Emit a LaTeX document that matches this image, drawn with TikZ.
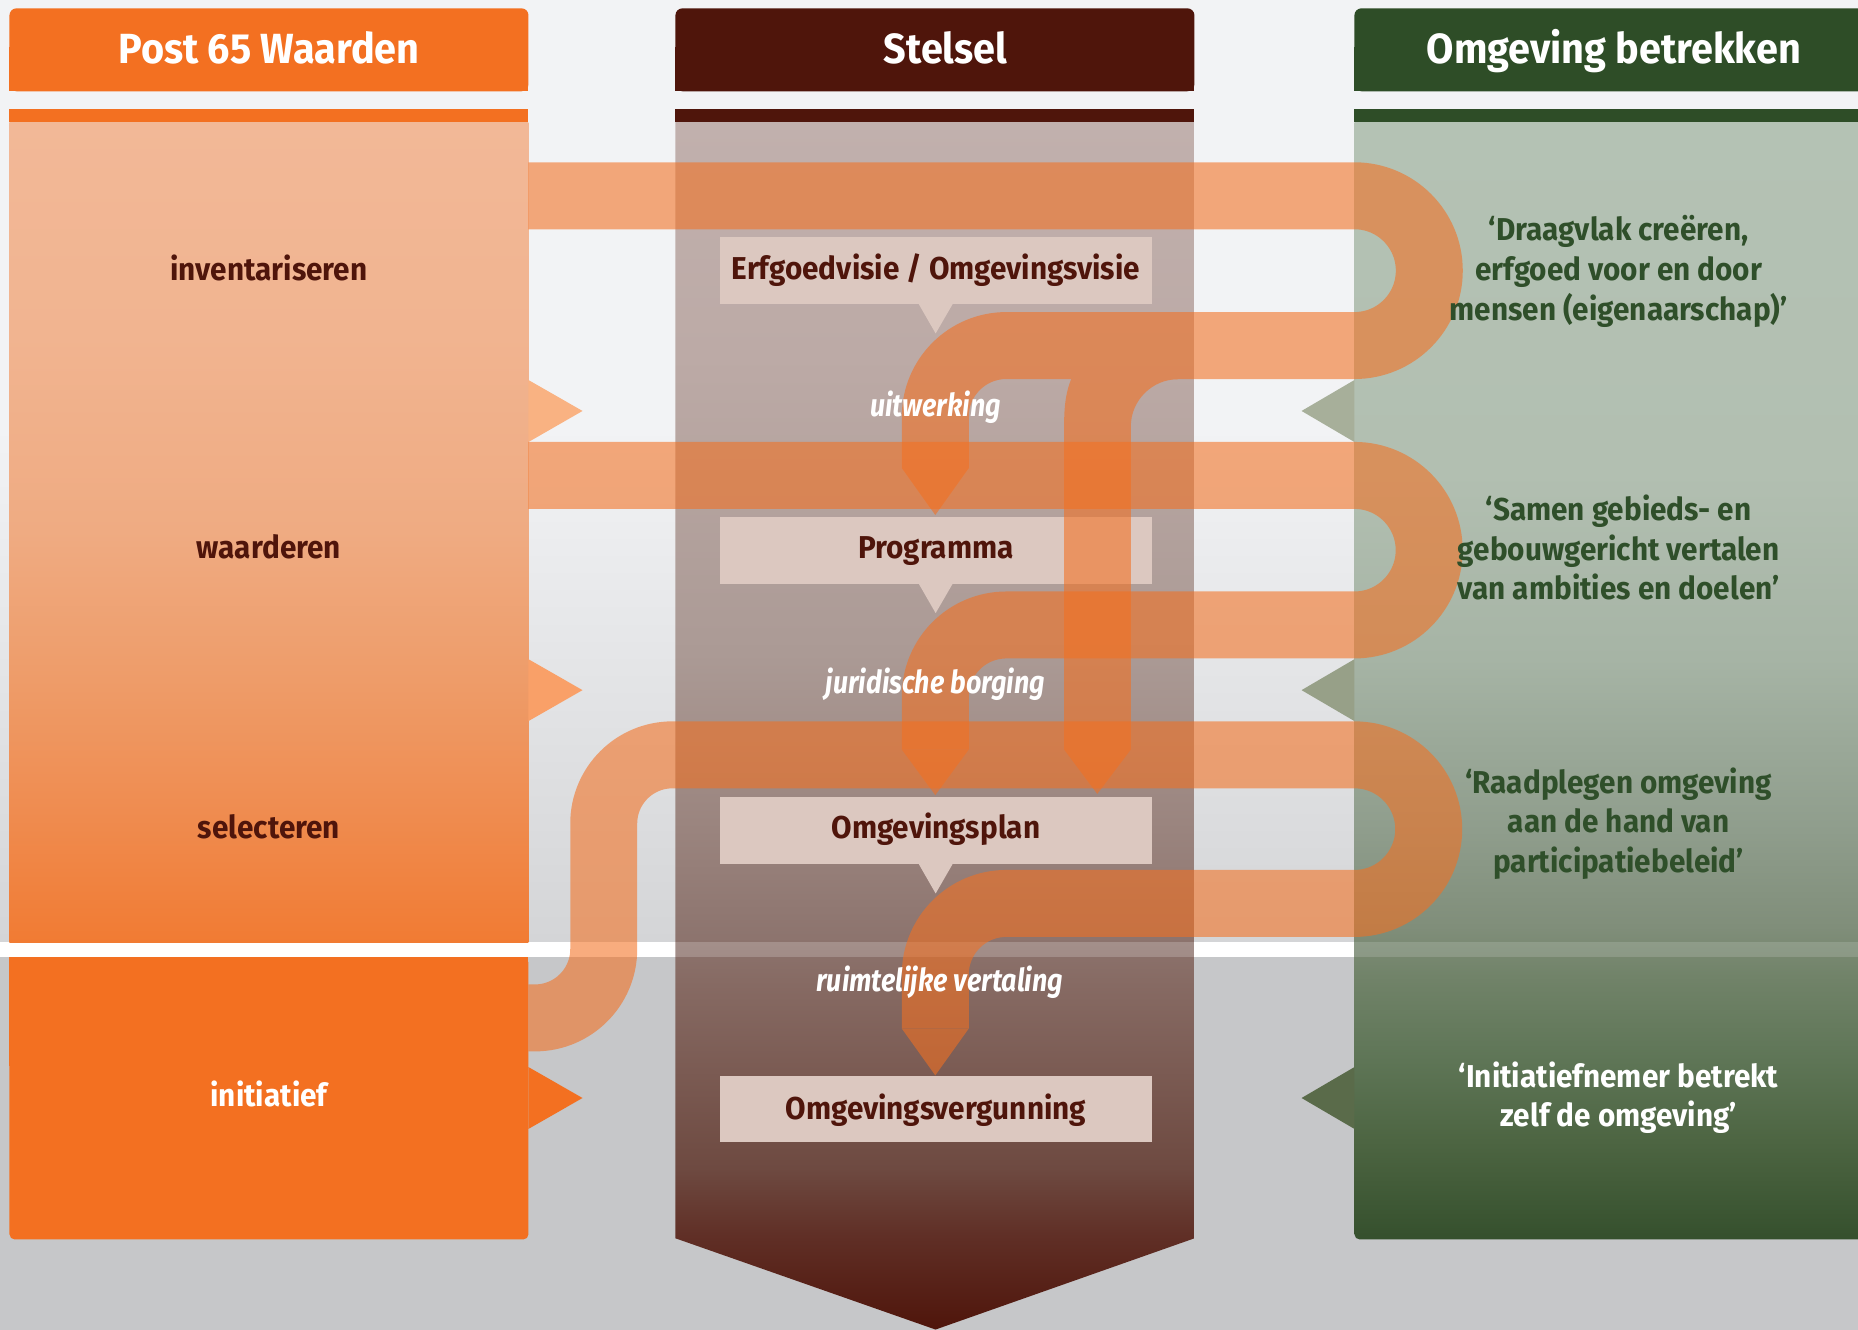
\documentclass[tikz,border=0pt]{standalone}
\usepackage{fontspec}
\setmainfont{Fira Sans}[FakeStretch=0.94]
\newfontfamily\flowfont{Fira Sans}[FakeStretch=0.85]

\definecolor{postorange}{HTML}{F37021}
\definecolor{stelselbrown}{HTML}{4F150B}
\definecolor{omggreen}{HTML}{2E4D27}
\definecolor{boxpink}{HTML}{DCC8C0}
\definecolor{txtgreen}{HTML}{2F4F2A}
\definecolor{bgtop}{HTML}{F2F3F5}
\definecolor{bgmid}{HTML}{D4D5D7}
\definecolor{bgbottom}{HTML}{C6C7C9}
\definecolor{tria}{HTML}{F9B282}
\definecolor{trib}{HTML}{F9A068}
\definecolor{trgra}{HTML}{A7AF9A}
\definecolor{trgrb}{HTML}{97A088}
\definecolor{trgrc}{HTML}{5A6B4A}
\definecolor{pa}{HTML}{F17B33}
\definecolor{pb}{HTML}{EF8C50}
\definecolor{pc}{HTML}{EE9C69}
\definecolor{pd}{HTML}{EFAB82}
\definecolor{pe}{HTML}{F1B490}
\definecolor{pf}{HTML}{F2B897}
\definecolor{sa}{HTML}{4F150B}
\definecolor{sb}{HTML}{602F26}
\definecolor{sc}{HTML}{6E4A41}
\definecolor{sd}{HTML}{876B64}
\definecolor{se}{HTML}{8C736D}
\definecolor{sf}{HTML}{9A847E}
\definecolor{sg}{HTML}{AB9A95}
\definecolor{sh}{HTML}{BCAAA6}
\definecolor{si}{HTML}{C1B0AD}
\definecolor{oa}{HTML}{35502D}
\definecolor{ob}{HTML}{4C6441}
\definecolor{oc}{HTML}{5E7556}
\definecolor{od}{HTML}{718369}
\definecolor{oe}{HTML}{808E7A}
\definecolor{of}{HTML}{8F9D8C}
\definecolor{og}{HTML}{A6B4A5}
\definecolor{oh}{HTML}{B2BFB1}
\definecolor{oi}{HTML}{B4C2B4}

\pgfdeclareverticalshading{postbody}{100bp}{color(0bp)=(pa); color(25bp)=(pa); color(33bp)=(pb); color(41bp)=(pc); color(50bp)=(pd); color(62bp)=(pe); color(75bp)=(pf); color(100bp)=(pf)}
\pgfdeclareverticalshading{stelselbody}{100bp}{color(0bp)=(sa); color(25bp)=(sa); color(28.9bp)=(sb); color(31.7bp)=(sc); color(39.5bp)=(sd); color(41bp)=(se); color(45.7bp)=(sf); color(53bp)=(sg); color(65.3bp)=(sh); color(75bp)=(si); color(100bp)=(si)}
\pgfdeclareverticalshading{omgbody}{100bp}{color(0bp)=(oa); color(25bp)=(oa); color(29.2bp)=(ob); color(33bp)=(oc); color(36.8bp)=(od); color(39bp)=(oe); color(43.3bp)=(of); color(51bp)=(og); color(59.3bp)=(oh); color(75bp)=(oi); color(100bp)=(oi)}

\tikzset{
  band/.style={draw=postorange, line width=0.67cm},
  colhead/.style={font=\fontsize{12}{14}\selectfont\bfseries, text=white, anchor=base, inner sep=0pt},
  steplabel/.style={font=\fontsize{9}{11.3}\selectfont\bfseries, text=stelselbrown, anchor=base, inner sep=0pt},
  boxlabel/.style={font=\fontsize{9}{11.3}\selectfont\bfseries, text=stelselbrown, anchor=base, inner sep=0pt},
  flowlabel/.style={font=\fontsize{9}{11.3}\selectfont\flowfont\bfseries\itshape, text=white, anchor=base, inner sep=0pt},
  quotelabel/.style={font=\fontsize{9}{11.3}\selectfont\bfseries, text=txtgreen, align=center, inner sep=0pt}
}

\begin{document}
\begin{tikzpicture}[x=0.01185cm, y=-0.01185cm]
\useasboundingbox (0,0) rectangle (1568,1122);
\fill[bgtop] (0,0) rectangle (1568,360);
\shade[top color=bgtop, bottom color=bgmid] (0,360) rectangle (1568,795);
\fill[white] (0,795) rectangle (1568,808);
\fill[bgbottom] (0,808) rectangle (1568,1122);

\fill[postorange, rounded corners=2pt] (8,7) rectangle (446,77);
\fill[postorange] (8,40) rectangle (446,77);
\fill[postorange] (8,92) rectangle (446,103);
\shade[shading=postbody] (8,103) rectangle (446,795);
\fill[postorange, rounded corners=1.5pt] (8,808) rectangle (446,1046);
\fill[postorange] (8,808) rectangle (446,900);
\fill[tria] (446,320.7) -- (491.6,346.8) -- (446,373) -- cycle;
\fill[trib] (446,556.3) -- (491.6,582.4) -- (446,608.5) -- cycle;
\fill[postorange] (446,900.5) -- (491.6,926.6) -- (446,952.7) -- cycle;

\fill[stelselbrown, rounded corners=2pt] (570,7) rectangle (1008,77);
\fill[stelselbrown] (570,40) rectangle (1008,77);
\fill[stelselbrown] (570,92) rectangle (1008,103);
\shade[shading=stelselbody] (570,103) -- (1008,103) -- (1008,1045) -- (789.5,1122) -- (570,1045) -- cycle;
\fill[white, opacity=.2] (570,795) rectangle (1008,808);

\fill[omggreen, rounded corners=2pt] (1143,7) rectangle (1600,77);
\fill[omggreen] (1143,40) rectangle (1600,77);
\fill[omggreen] (1143,92) rectangle (1600,103);
\shade[shading=omgbody] (1143,600) [rounded corners=1.5pt] -- (1143,1046) -- (1400,1046) [sharp corners] -- (1600,1046) -- (1600,103) -- (1143,103) -- cycle;
\fill[white, opacity=.15] (1143,795) rectangle (1568,808);
\fill[trgra] (1143,320.7) -- (1098.4,346.8) -- (1143,373) -- cycle;
\fill[trgrb] (1143,556.3) -- (1098.4,582.4) -- (1143,608.5) -- cycle;
\fill[trgrc] (1143,900.5) -- (1098.4,926.6) -- (1143,952.7) -- cycle;

\fill[boxpink] (607.6,200) rectangle (972,256.5);
\fill[boxpink] (775,256) -- (789.6,281.4) -- (804.3,256) -- cycle;
\fill[boxpink] (607.6,436.5) rectangle (972,492.5);
\fill[boxpink] (775,492) -- (789.6,517.4) -- (804.3,492) -- cycle;
\fill[boxpink] (607.6,672.5) rectangle (972,729);
\fill[boxpink] (775,728.5) -- (789.6,754) -- (804.3,728.5) -- cycle;
\fill[boxpink] (607.6,908.3) rectangle (972,963.8);

\begin{scope}[transparency group, opacity=.58]
\draw[band] (446,165.2) -- (1143,165.2) arc[start angle=-90, end angle=90, radius=63.2] -- (849.3,291.6) arc[start angle=-90, end angle=-180, radius=60] -- (789.3,395);
\fill[postorange] (761.05,395) -- (789.3,434.6) -- (817.55,395) -- cycle;
\fill[postorange] (904,300) -- (904,319.8) .. controls (900,330) and (898,340) .. (898,360) -- (898,632.5) -- (926,670) -- (954.3,632.5) -- (954.3,360) arc[start angle=180, end angle=270, radius=40] -- (994.3,300) -- cycle;
\end{scope}
\begin{scope}[transparency group, opacity=.58]
\draw[band] (446,401.2) -- (1143,401.2) arc[start angle=-90, end angle=90, radius=63.1] -- (849.3,527.4) arc[start angle=-90, end angle=-180, radius=60] -- (789.3,632.5);
\fill[postorange] (761.05,632.5) -- (789.3,671) -- (817.55,632.5) -- cycle;
\end{scope}
\begin{scope}[transparency group, opacity=.58]
\draw[band] (446,859) -- (451.5,859) arc[start angle=90, end angle=0, radius=58] -- (509.5,695) arc[start angle=180, end angle=270, radius=58] -- (1143,637) arc[start angle=-90, end angle=90, radius=62.7] -- (849.3,762.4) arc[start angle=-90, end angle=-180, radius=60] -- (789.3,868);
\fill[postorange] (761.05,868) -- (789.3,907.5) -- (817.55,868) -- cycle;
\end{scope}

\node[colhead] (posthead) at (227,53.4) {Post 65 Waarden};
\node[colhead] (stelselhead) at (798,53.4) {Stelsel};
\node[colhead] (omghead) at (1362,53.4) {Omgeving betrekken};

\node[steplabel] (invent) at (227,236.7) {inventariseren};
\node[steplabel] (waard) at (227,471.5) {waarderen};
\node[steplabel] (select) at (227,707.5) {selecteren};
\node[steplabel, text=white] (initief) at (227,933.5) {initiatief};

\node[boxlabel] (visie) at (789.8,236.1) {Erfgoedvisie / Omgevingsvisie};
\node[boxlabel] (progr) at (789.8,471.6) {Programma};
\node[boxlabel] (plan) at (789.8,707.7) {Omgevingsplan};
\node[boxlabel] (vergun) at (789.8,945) {Omgevingsvergunning};

\node[flowlabel] (uitw) at (789.5,351.8) {uitwerking};
\node[flowlabel] (borg) at (789.5,585.4) {juridische borging};
\node[flowlabel] (vertal) at (793,836.7) {ruimtelijke vertaling};

\node[quotelabel] (draagvlak) at (1366,229) {‘Draagvlak creëren,\\erfgoed voor en door\\mensen (eigenaarschap)’};
\node[quotelabel] (samen) at (1366,462) {‘Samen gebieds- en\\gebouwgericht vertalen\\van ambities en doelen’};
\node[quotelabel] (raadpl) at (1366,695) {‘Raadplegen omgeving\\aan de hand van\\participatiebeleid’};
\node[quotelabel, text=white] (initnemer) at (1366,926.3) {‘Initiatiefnemer betrekt\\zelf de omgeving’};
\end{tikzpicture}
\end{document}
